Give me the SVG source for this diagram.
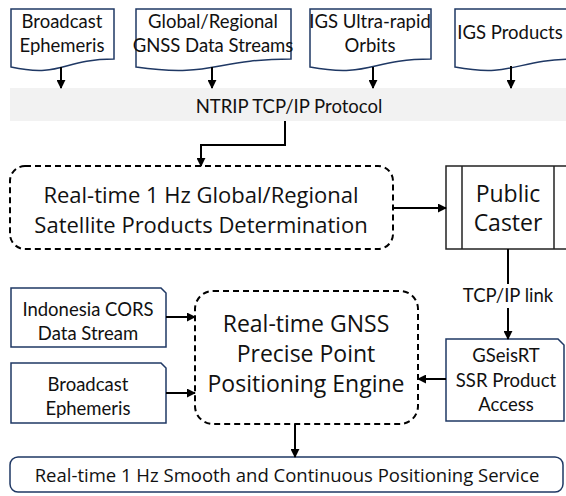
<svg xmlns="http://www.w3.org/2000/svg" width="566" height="496" viewBox="0 0 566 496">
<defs>
<marker id="ah" viewBox="0 0 10 10" refX="9" refY="5" markerWidth="4.5" markerHeight="4.5" orient="auto" markerUnits="strokeWidth">
<path d="M0,0 L10,5 L0,10 z" fill="#000"/>
</marker>
<style>
.doc{fill:#fff;stroke:#1f3864;stroke-width:1.5}
.dash{fill:#fff;stroke:#000;stroke-width:2;stroke-dasharray:6 4}
.proc{fill:#fff;stroke:#222;stroke-width:1.5}
.c{fill:none;stroke:#000;stroke-width:2}
.ca{fill:none;stroke:#000;stroke-width:2;marker-end:url(#ah)}
.s{font-family:Lato,"Liberation Sans",sans-serif;font-size:18.5px;fill:#111;text-anchor:middle}
.m{font-family:"Open Sans","Liberation Sans",sans-serif;fill:#111;text-anchor:middle}
</style>
</defs>
<rect width="566" height="496" fill="#fff"/>

<g id="band">
<rect x="10" y="88" width="560" height="33" fill="#f2f2f2"/>
<text class="s" x="289" y="113" font-size="20">NTRIP TCP/IP Protocol</text>
</g>

<g id="broadcast-top">
<path class="doc" d="M11,9 H114 V59 C62,59 62,78 11,67 Z"/>
<text class="s" x="62" y="28">Broadcast</text>
<text class="s" x="62" y="52">Ephemeris</text>
</g>
<g id="gnss-streams">
<path class="doc" d="M136,9 H291 V59 C213,59 213,78 136,67 Z"/>
<text class="s" x="213" y="28">Global/Regional</text>
<text class="s" x="213" y="52" font-size="17.5">GNSS Data Streams</text>
</g>
<g id="igs-ultra">
<path class="doc" d="M310,9 H431 V59 C370,59 370,78 310,67 Z"/>
<text class="s" x="370" y="28">IGS Ultra-rapid</text>
<text class="s" x="370" y="52">Orbits</text>
</g>
<g id="igs-products">
<path class="doc" d="M455,9 H575 V59 C515,59 515,78 455,67 Z"/>
<text class="s" x="510" y="39">IGS Products</text>
</g>

<g id="rt-products">
<rect class="dash" x="10" y="166" width="383" height="83" rx="15"/>
<text class="m" x="201" y="203" font-size="22">Real-time 1 Hz Global/Regional</text>
<text class="m" x="201" y="233" font-size="22">Satellite Products Determination</text>
</g>

<g id="public-caster">
<rect class="proc" x="446" y="166" width="124" height="83"/>
<line class="proc" x1="462" y1="166" x2="462" y2="249"/>
<line class="proc" x1="554" y1="166" x2="554" y2="249"/>
<text class="m" x="508" y="202" font-size="23">Public</text>
<text class="m" x="508" y="231" font-size="23">Caster</text>
</g>

<g id="indonesia-cors">
<path class="doc" d="M11,288 H161 L166,293 V347 H11 Z"/>
<text class="s" x="88" y="316" font-size="19.5">Indonesia CORS</text>
<text class="s" x="88" y="340" font-size="19.5">Data Stream</text>
</g>
<g id="broadcast-left">
<path class="doc" d="M11,363 H161 L166,368 V423 H11 Z"/>
<text class="s" x="88" y="391" font-size="19.5">Broadcast</text>
<text class="s" x="88" y="415" font-size="19.5">Ephemeris</text>
</g>

<g id="ppp-engine">
<rect class="dash" x="195" y="291" width="223" height="133" rx="18"/>
<text class="m" x="306" y="332" font-size="23">Real-time GNSS</text>
<text class="m" x="306" y="362" font-size="23">Precise Point</text>
<text class="m" x="306" y="392" font-size="23">Positioning Engine</text>
</g>

<g id="gseisrt">
<path class="doc" d="M446,339 H558 L564,345 V421 H446 Z"/>
<text class="s" x="506" y="362" font-size="19.5">GSeisRT</text>
<text class="s" x="506" y="387" font-size="19.5">SSR Product</text>
<text class="s" x="506" y="411" font-size="19.5">Access</text>
</g>

<g id="service">
<rect class="doc" x="10" y="457" width="553" height="35" rx="8"/>
<text class="m" x="287" y="482" font-size="18.5">Real-time 1 Hz Smooth and Continuous Positioning Service</text>
</g>

<g id="connectors">
<line class="ca" x1="61" y1="67" x2="61" y2="88"/>
<line class="ca" x1="212" y1="67" x2="212" y2="88"/>
<line class="ca" x1="373" y1="67" x2="373" y2="88"/>
<line class="ca" x1="511" y1="66" x2="511" y2="88"/>
<polyline class="ca" points="285,121 285,145 201,145 201,166"/>
<line class="ca" x1="393" y1="208" x2="446" y2="208"/>
<line class="c" x1="508" y1="249" x2="508" y2="284"/>
<text class="s" x="508" y="302" font-size="19.5">TCP/IP link</text>
<line class="ca" x1="508" y1="308" x2="508" y2="339"/>
<line class="ca" x1="446" y1="379" x2="418" y2="379"/>
<line class="ca" x1="166" y1="317" x2="195" y2="317"/>
<line class="ca" x1="166" y1="393" x2="195" y2="393"/>
<line class="ca" x1="295" y1="424" x2="295" y2="457"/>
</g>
</svg>
